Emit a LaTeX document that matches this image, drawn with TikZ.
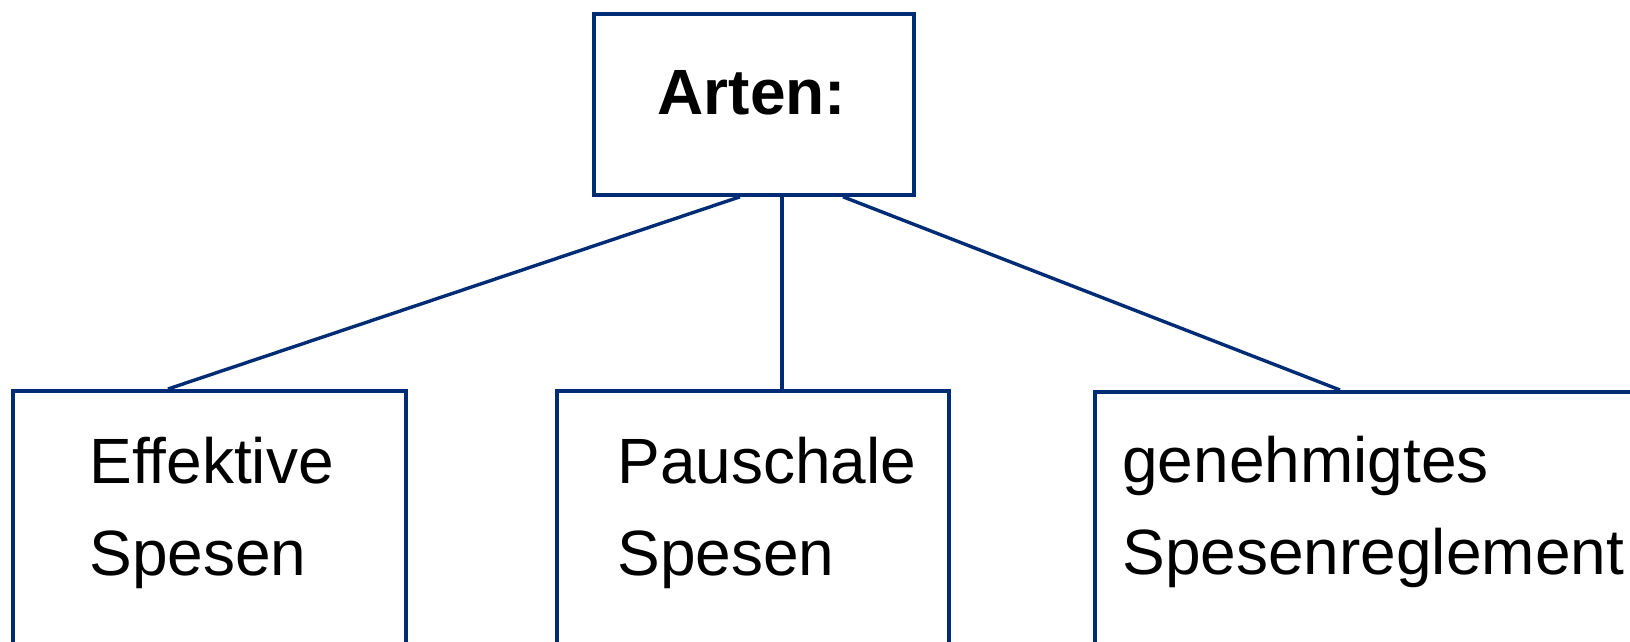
\documentclass[tikz,border=0pt]{standalone}
\usepackage{fontspec}
\setmainfont{Liberation Sans}
\definecolor{navy}{RGB}{0,44,118}
\tikzset{
  frame/.style={draw=navy, line width=1.9pt, rectangle, anchor=north west, inner sep=0pt},
  link/.style={draw=navy, line width=1.7pt},
  lbl/.style={anchor=base west, inner sep=0pt, font=\fontsize{32pt}{38pt}\selectfont},
  head/.style={anchor=base, inner sep=0pt, font=\fontsize{32pt}{38pt}\selectfont\bfseries}
}
\begin{document}
\begin{tikzpicture}[x=0.5pt, y=-0.5pt]
  \useasboundingbox (0,0) rectangle (1630,642);
  \clip (0,0) rectangle (1630,642);
  \fill[white] (0,0) rectangle (1630,642);

  % boxes (the lower row runs past the bottom edge)
  \node[frame, minimum width=160pt, minimum height=90.5pt] (top) at (592,12) {};
  \node[frame, minimum width=196.5pt, minimum height=200pt] (eff) at (11,389) {};
  \node[frame, minimum width=196pt, minimum height=200pt] (pau) at (555,389) {};
  \node[frame, minimum width=320pt, minimum height=200pt] (reg) at (1093,390) {};

  % labels
  \node[head] (arten) at (752,115) {Arten:};
  \node[lbl] (eff1) at (89,483) {Effektive};
  \node[lbl] (eff2) at (89,575) {Spesen};
  \node[lbl] (pau1) at (617,483) {Pauschale};
  \node[lbl] (pau2) at (617,575) {Spesen};
  \node[lbl] (reg1) at (1122,482) {genehmigtes};
  \node[lbl] (reg2) at (1122,574) {Spesenreglement};

  % connectors
  \draw[link] ([xshift=74pt]top.south west) -- ([xshift=78.5pt]eff.north west);
  \draw[link] ([xshift=95pt]top.south west) -- ([xshift=113.5pt]pau.north west);
  \draw[link] ([xshift=125.5pt]top.south west) -- ([xshift=123.5pt]reg.north west);
\end{tikzpicture}
\end{document}
